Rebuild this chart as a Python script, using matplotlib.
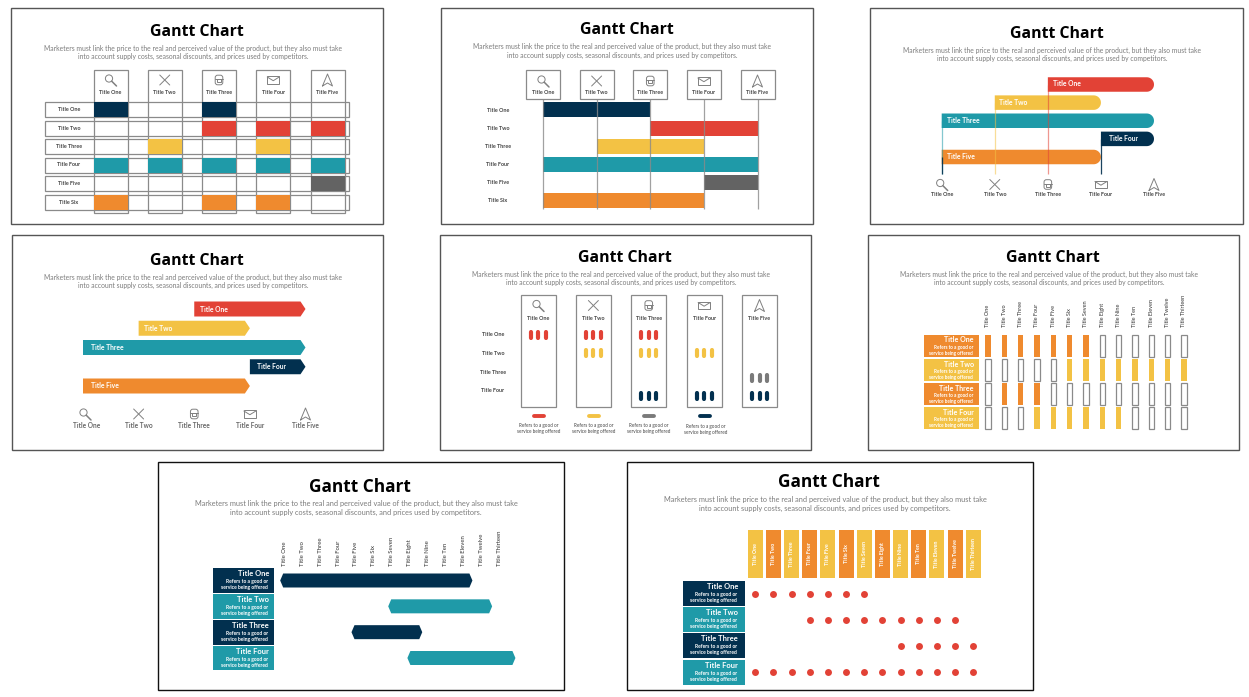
import matplotlib
matplotlib.use("Agg")
import matplotlib.pyplot as plt
from matplotlib.patches import Rectangle, Circle, FancyBboxPatch
import numpy as np

W, H = 1249, 697
NAVY, RED, YELLOW, TEAL, ORANGE, GRAY = "#02304F", "#E24236", "#F3C244", "#1F9AA8", "#EF8A2E", "#636363"
BOX = "#8A8A8A"

TITLE = "Gantt Chart"
SUB1 = "Marketers must link the price to the real and perceived value of the product, but they also must take"
SUB2 = "into account supply costs, seasonal discounts, and prices used by competitors."
NOTE1, NOTE2 = "Refers to a good or", "service being offered"

COLS5 = ["Title One", "Title Two", "Title Three", "Title Four", "Title Five"]
ROWS6 = ["Title One", "Title Two", "Title Three", "Title Four", "Title Five", "Title Six"]
ROWS5 = ROWS6[:5]
ROWS4 = ROWS6[:4]
COLS13 = ["Title One", "Title Two", "Title Three", "Title Four", "Title Five", "Title Six", "Title Seven",
          "Title Eight", "Title Nine", "Title Ten", "Title Eleven", "Title Twelve", "Title Thirteen"]
ICONS = ["search", "cross", "printer", "mail", "nav"]

# Panel 1: which column each row occupies
P1_GRID = [[1, 0, 1, 0, 0], [0, 0, 1, 1, 1], [0, 1, 0, 1, 0], [1, 1, 1, 1, 1], [0, 0, 0, 0, 1], [1, 0, 1, 1, 0]]
P1_COLORS = [NAVY, RED, YELLOW, TEAL, GRAY, ORANGE]
# Panel 2: spans between columns
P2_START = [0, 2, 1, 0, 3, 0]
P2_END = [2, 4, 3, 4, 4, 3]
P2_COLORS = [NAVY, RED, YELLOW, TEAL, GRAY, ORANGE]
# Panels 3 and 4
P34_START = [2, 1, 0, 3, 0]
P34_END = [4, 3, 4, 4, 3]
P3_COLORS = [RED, YELLOW, TEAL, NAVY, ORANGE]
P3_STEM_COL = [2, 1, 0, 3, 0]
P3_STEM_ROW = [0, 1, 2, 3, 4]
P3_STEM_COLOR = [RED, YELLOW, TEAL, NAVY, NAVY]
# Panel 5: column indexes for each series
P5_SERIES = [[0, 1, 2], [1, 2, 3], [4], [2, 3, 4]]
P5_COLORS = [RED, YELLOW, "#7A7A7A", NAVY]
# Panel 6
P6_CELLS = [[0, 1, 2, 3, 4, 5, 6], [5, 6, 7, 8, 9, 10, 11, 12], [1, 2, 3], [3, 4, 5, 6, 7, 8]]
P6_COLORS = [ORANGE, YELLOW, ORANGE, YELLOW]
# Panel 7: spans in column units
P7_START = [-0.23, 5.8, 3.75, 6.87]
P7_END = [10.5, 11.6, 7.7, 12.9]
P7_COLORS = [NAVY, TEAL, NAVY, TEAL]
# Panel 8: dots
P8_DOTS = [[0, 1, 2, 3, 4, 5, 6], [3, 4, 5, 6, 7, 8, 9, 10, 11], [8, 9, 10, 11, 12],
           [0, 1, 2, 3, 4, 5, 6, 7, 8, 9, 10, 11, 12]]
P8_COLORS = [NAVY, TEAL, NAVY, TEAL]
P8_HEAD = [YELLOW, ORANGE] * 6 + [YELLOW]

plt.rcParams["font.family"] = ["Lato", "DejaVu Sans"]
fig = plt.figure(figsize=(W / 100, H / 100), dpi=100, facecolor="white")

ov = fig.add_axes([0, 0, 1, 1], zorder=10)
ov.set_xlim(0, W); ov.set_ylim(H, 0); ov.axis("off"); ov.patch.set_alpha(0)


class Chart:
    """Axes whose columns and rows are index units placed over a pixel span."""
    def __init__(self, x0, x1, ncol, y0, y1, nrow):
        self.x0, self.y0 = x0, y0
        self.sx = (x1 - x0) / (ncol - 1)
        self.sy = (y1 - y0) / (nrow - 1)
        self.ax = fig.add_axes([x0 / W, 1 - y1 / H, (x1 - x0) / W, (y1 - y0) / H], zorder=5)
        self.ax.set_xlim(0, ncol - 1); self.ax.set_ylim(nrow - 1, 0)
        self.ax.autoscale(False); self.ax.axis("off")

    def X(self, i):
        return self.x0 + i * self.sx

    def Y(self, j):
        return self.y0 + j * self.sy

    def box(self, cx, cy, wpx, hpx, **kw):
        kw.setdefault("clip_on", False)
        r = Rectangle((cx - wpx / self.sx / 2, cy - hpx / self.sy / 2), wpx / self.sx, hpx / self.sy, **kw)
        self.ax.add_patch(r)
        return r


def frame(x0, y0, x1, y1, color):
    ov.add_patch(Rectangle((x0, y0), x1 - x0, y1 - y0, fill=False, ec=color, lw=1.0))


def heading(cx, ty, sy1, sy2, scale=1.0):
    ov.text(cx, ty + 1, TITLE, ha="center", va="center", family="Open Sans", weight="bold",
            fontsize=11.4 * scale, color="#000000")
    ov.text(cx - 4, sy1, SUB1, ha="center", va="center", fontsize=4.85 * scale, color="#7C7C7C")
    ov.text(cx - 4, sy2, SUB2, ha="center", va="center", fontsize=4.85 * scale, color="#7C7C7C")


def small(x, y, s, ha="center", size=3.9, color="#444444", weight="bold", rot=0):
    ov.text(x, y, s, ha=ha, va="center", fontsize=size, color=color, weight=weight, rotation=rot)


def icon(kind, cx, cy):
    c, lw = "#808080", 0.7
    kw = dict(color=c, lw=lw, solid_capstyle="round")
    if kind == "search":
        ov.add_patch(Circle((cx - 1.5, cy - 1.5), 3.6, fill=False, ec=c, lw=lw))
        ov.plot([cx + 1.2, cx + 6], [cy + 1.2, cy + 6], color=c, lw=1.1, solid_capstyle="round")
    elif kind == "cross":
        ov.plot([cx - 5, cx + 5], [cy - 5, cy + 5], **kw)
        ov.plot([cx - 5, cx + 5], [cy + 5, cy - 5], **kw)
    elif kind == "printer":
        ov.add_patch(FancyBboxPatch((cx - 3.8, cy - 4.8), 7.6, 9.6, boxstyle="round,pad=0,rounding_size=2.4",
                                    fill=False, ec=c, lw=lw))
        ov.plot([cx - 3.8, cx + 3.8], [cy - 1, cy - 1], **kw)
        ov.add_patch(Rectangle((cx - 1.8, cy - 1), 3.6, 3.2, fill=False, ec=c, lw=lw))
    elif kind == "mail":
        ov.add_patch(Rectangle((cx - 6, cy - 3.7), 12, 7.4, fill=False, ec=c, lw=lw))
        ov.plot([cx - 6, cx, cx + 6], [cy - 3, cy + 0.7, cy - 3], **kw)
    else:
        ov.plot([cx - 5, cx, cx + 5, cx, cx - 5], [cy + 6, cy - 6, cy + 6, cy + 3, cy + 6], **kw)


def note(x, y, size=3.35, color="#444444", ha="center", dy=5.6, weight="normal"):
    small(x, y, NOTE1, ha=ha, size=size, color=color, weight=weight)
    small(x, y + dy, NOTE2, ha=ha, size=size, color=color, weight=weight)


# ---------- Panel 1 ----------
frame(11, 8, 383, 224, "#555555")
heading(197, 31, 48, 56.5)
c = Chart(110.5, 327.5, 5, 109.5, 202, 6)
for j in range(6):
    r = Rectangle((((45 - c.x0) / c.sx), j - 7.5 / c.sy), 304 / c.sx, 15 / c.sy, fill=False, ec=BOX, lw=0.9, clip_on=False)
    c.ax.add_patch(r)
for i in range(5):
    c.box(i, ((70 + 213) / 2 - c.y0) / c.sy, 34, 143, fill=False, ec=BOX, lw=0.9)
for j, (row, col) in enumerate(zip(P1_GRID, P1_COLORS)):
    xs = [i for i, v in enumerate(row) if v]
    c.ax.bar(xs, [15 / c.sy] * len(xs), width=34 / c.sx, bottom=j - 7.5 / c.sy, color=col, clip_on=False, zorder=3)
for i, name in enumerate(COLS5):
    icon(ICONS[i], c.X(i), 80); small(c.X(i), 92.5, name)
for j, name in enumerate(ROWS6):
    small(69, c.Y(j), name)

# ---------- Panel 2 ----------
frame(441, 8, 813, 224, "#555555")
heading(626.5, 29.5, 46, 55)
c = Chart(543, 757.5, 5, 110, 201, 6)
c.ax.barh(range(6), np.subtract(P2_END, P2_START), left=P2_START, height=15 / c.sy, color=P2_COLORS, clip_on=False, zorder=2)
for i, name in enumerate(COLS5):
    c.ax.vlines(i, (99 - c.y0) / c.sy, (209 - c.y0) / c.sy, color=BOX, lw=0.9, alpha=0.8, clip_on=False, zorder=3)
    c.box(i, (84.5 - c.y0) / c.sy, 34, 29, fc="white", ec=BOX, lw=0.9, zorder=4)
    icon(ICONS[i], c.X(i), 81); small(c.X(i), 92, name)
for j, name in enumerate(ROWS6):
    small(498, c.Y(j), name)

# ---------- Panel 3 ----------
frame(870, 8, 1243, 224, "#555555")
heading(1056.5, 33, 50, 58)
c = Chart(941.7, 1154, 5, 84.5, 157, 5)
P3_TEXT_PAD = [5, 4, 5, 8, 5]


def round_bar(ch, a, b, j, hpx, color):
    r = hpx / 2
    t = np.linspace(-np.pi / 2, np.pi / 2, 24)
    xs = np.r_[a, b - r / ch.sx + r * np.cos(t) / ch.sx, a]
    ys = np.r_[j - r / ch.sy, j + r * np.sin(t) / ch.sy, j + r / ch.sy]
    ch.ax.fill(xs, ys, color=color, lw=0, clip_on=False, zorder=2)


for j, (a, b, col) in enumerate(zip(P34_START, P34_END, P3_COLORS)):
    round_bar(c, a, b, j, 14.5, col)
    small(c.X(a) + P3_TEXT_PAD[j], c.Y(j) - 0.5, ROWS5[j], ha="left", size=4.9, color="white", weight="bold")
for col_i, row_i, colr in zip(P3_STEM_COL, P3_STEM_ROW, P3_STEM_COLOR):
    c.ax.vlines(col_i, row_i, (174 - c.y0) / c.sy, color=colr, lw=0.9, alpha=0.55 if colr != NAVY else 0.9, clip_on=False, zorder=3)
for i, name in enumerate(COLS5):
    icon(ICONS[i], c.X(i), 184.5); small(c.X(i), 195, name)

# ---------- Panel 4 ----------
frame(12, 235, 383, 450, "#555555")
heading(197, 260, 277, 285.5)
c = Chart(83, 305.5, 5, 309, 386, 5)
P4_TEXT_PAD = [5.5, 5, 8, 6.7, 8]
for j, (a, b, col) in enumerate(zip(P34_START, P34_END, P3_COLORS)):
    hh, tip = 7.5 / c.sy, 5 / c.sx
    c.ax.fill([a, b - tip, b, b - tip, a], [j - hh, j - hh, j, j + hh, j + hh], color=col, lw=0, clip_on=False, zorder=2)
    small(c.X(a) + P4_TEXT_PAD[j], c.Y(j), ROWS5[j], ha="left", size=4.9, color="white", weight="bold")
for i, name in enumerate(COLS5):
    icon(ICONS[i], c.X(i) + (2 if i == 0 else 0), 414)
    small(c.X(i) + (4 if i == 0 else 0), 426, name, size=4.7, color="#666666", weight="bold")

# ---------- Panel 5 ----------
frame(440, 235, 811, 450, "#555555")
heading(625, 257, 274, 282.5)
P5_ROW_POS = [0, 1, 2.39, 3.39]
c = Chart(538, 759.5, 5, 334.7, 396, 4)
c.ax.set_ylim(3.39, 0)
c.sy = (396 - 334.7) / 3.39
for i, name in enumerate(COLS5):
    c.box(i, (351 - c.y0) / c.sy, 35, 111.7, fill=False, ec=BOX, lw=0.9)
    icon(ICONS[i], c.X(i), 305.5); small(c.X(i), 318, name)
for k, (cols, col) in enumerate(zip(P5_SERIES, P5_COLORS)):
    for i in cols:
        xs = [i - 7.5 / c.sx, i, i + 7.5 / c.sx]
        c.ax.vlines(xs, P5_ROW_POS[k] - 3 / c.sy, P5_ROW_POS[k] + 3 / c.sy, color=col, lw=3.0, capstyle="round", clip_on=False, zorder=3)
for name, y in zip(ROWS4, [335, 353.5, 372, 391]):
    small(493, y, name)
for x, y, col in zip([539, 594, 649, 705.5], [416, 416, 416, 416], [RED, YELLOW, "#7A7A7A", NAVY]):
    ov.plot([x - 5, x + 5], [y, y], color=col, lw=2.8, solid_capstyle="round")
for x, y in zip([539, 594, 649, 706], [425.5, 425.5, 425.5, 426.5]):
    note(x, y)

# ---------- Panel 6 ----------
frame(868, 235, 1239, 450, "#555555")
heading(1053, 257, 274, 282.5)
c = Chart(988, 1184, 13, 346, 418.2, 4)
for j, (cells, col) in enumerate(zip(P6_CELLS, P6_COLORS)):
    c.ax.barh([j], [55 / c.sx], left=[(924 - c.x0) / c.sx], height=22.5 / c.sy, color=col, clip_on=False, zorder=2)
    for i in range(13):
        if i in cells:
            c.box(i, j, 5.5, 22, fc=col, ec="none", zorder=3)
        else:
            c.box(i, j, 5.5, 22, fill=False, ec=BOX, lw=0.9, zorder=3)
    small(974, c.Y(j) - 6, ROWS4[j], ha="right", size=5.1, color="white", weight="bold")
    note(973, c.Y(j) + 1.5, ha="right", size=3.3, color="white", dy=5.6, weight="bold")
for i, name in enumerate(COLS13):
    ov.text(c.X(i), 327, name, rotation=90, ha="center", va="bottom", fontsize=4.0, color="#333333")

# ---------- Panel 7 ----------
frame(158, 462, 564, 690, "#111111")
heading(360, 486, 503, 512, 1.09)
c = Chart(284.3, 499.3, 13, 580.5, 658, 4)
for j, (a, b, col) in enumerate(zip(P7_START, P7_END, P7_COLORS)):
    c.ax.barh([j], [61 / c.sx], left=[(213 - c.x0) / c.sx], height=24.8 / c.sy, color=col, clip_on=False, zorder=2)
    hh, tip = 7 / c.sy, 3 / c.sx
    c.ax.fill([a, a + tip, b - tip, b, b - tip, a + tip], [j, j - hh, j - hh, j, j + hh, j + hh], color=col, lw=0, clip_on=False, zorder=2)
    small(269, c.Y(j) - 7, ROWS4[j], ha="right", size=5.4, color="white", weight="bold")
    note(268, c.Y(j) + 1, ha="right", size=3.6, color="white", dy=6, weight="bold")
for i, name in enumerate(COLS13):
    ov.text(c.X(i), 566, name, rotation=90, ha="center", va="bottom", fontsize=4.3, color="#333333")

# ---------- Panel 8 ----------
frame(627, 462, 1033, 690, "#111111")
heading(829, 481, 499, 508.5, 1.09)
c = Chart(755.3, 973.3, 13, 593.7, 672, 4)
c.ax.bar(range(13), [48.3 / c.sy] * 13, width=15 / c.sx, bottom=(530 - c.y0) / c.sy, color=P8_HEAD, clip_on=False, zorder=2)
for i, name in enumerate(COLS13):
    ov.text(c.X(i), 554, name, rotation=90, ha="center", va="center", fontsize=3.8, color="white", weight="bold")
for j, (cols, col) in enumerate(zip(P8_DOTS, P8_COLORS)):
    c.ax.barh([j], [62 / c.sx], left=[(683 - c.x0) / c.sx], height=25 / c.sy, color=col, clip_on=False, zorder=2)
    c.ax.scatter(cols, [j] * len(cols), s=25, color=RED, lw=0, clip_on=False, zorder=3)
    small(738, c.Y(j) - 7, ROWS4[j], ha="right", size=5.4, color="white", weight="bold")
    note(737, c.Y(j) + 1, ha="right", size=3.6, color="white", dy=6, weight="bold")

fig.savefig("out.png", dpi=100, facecolor="white")
